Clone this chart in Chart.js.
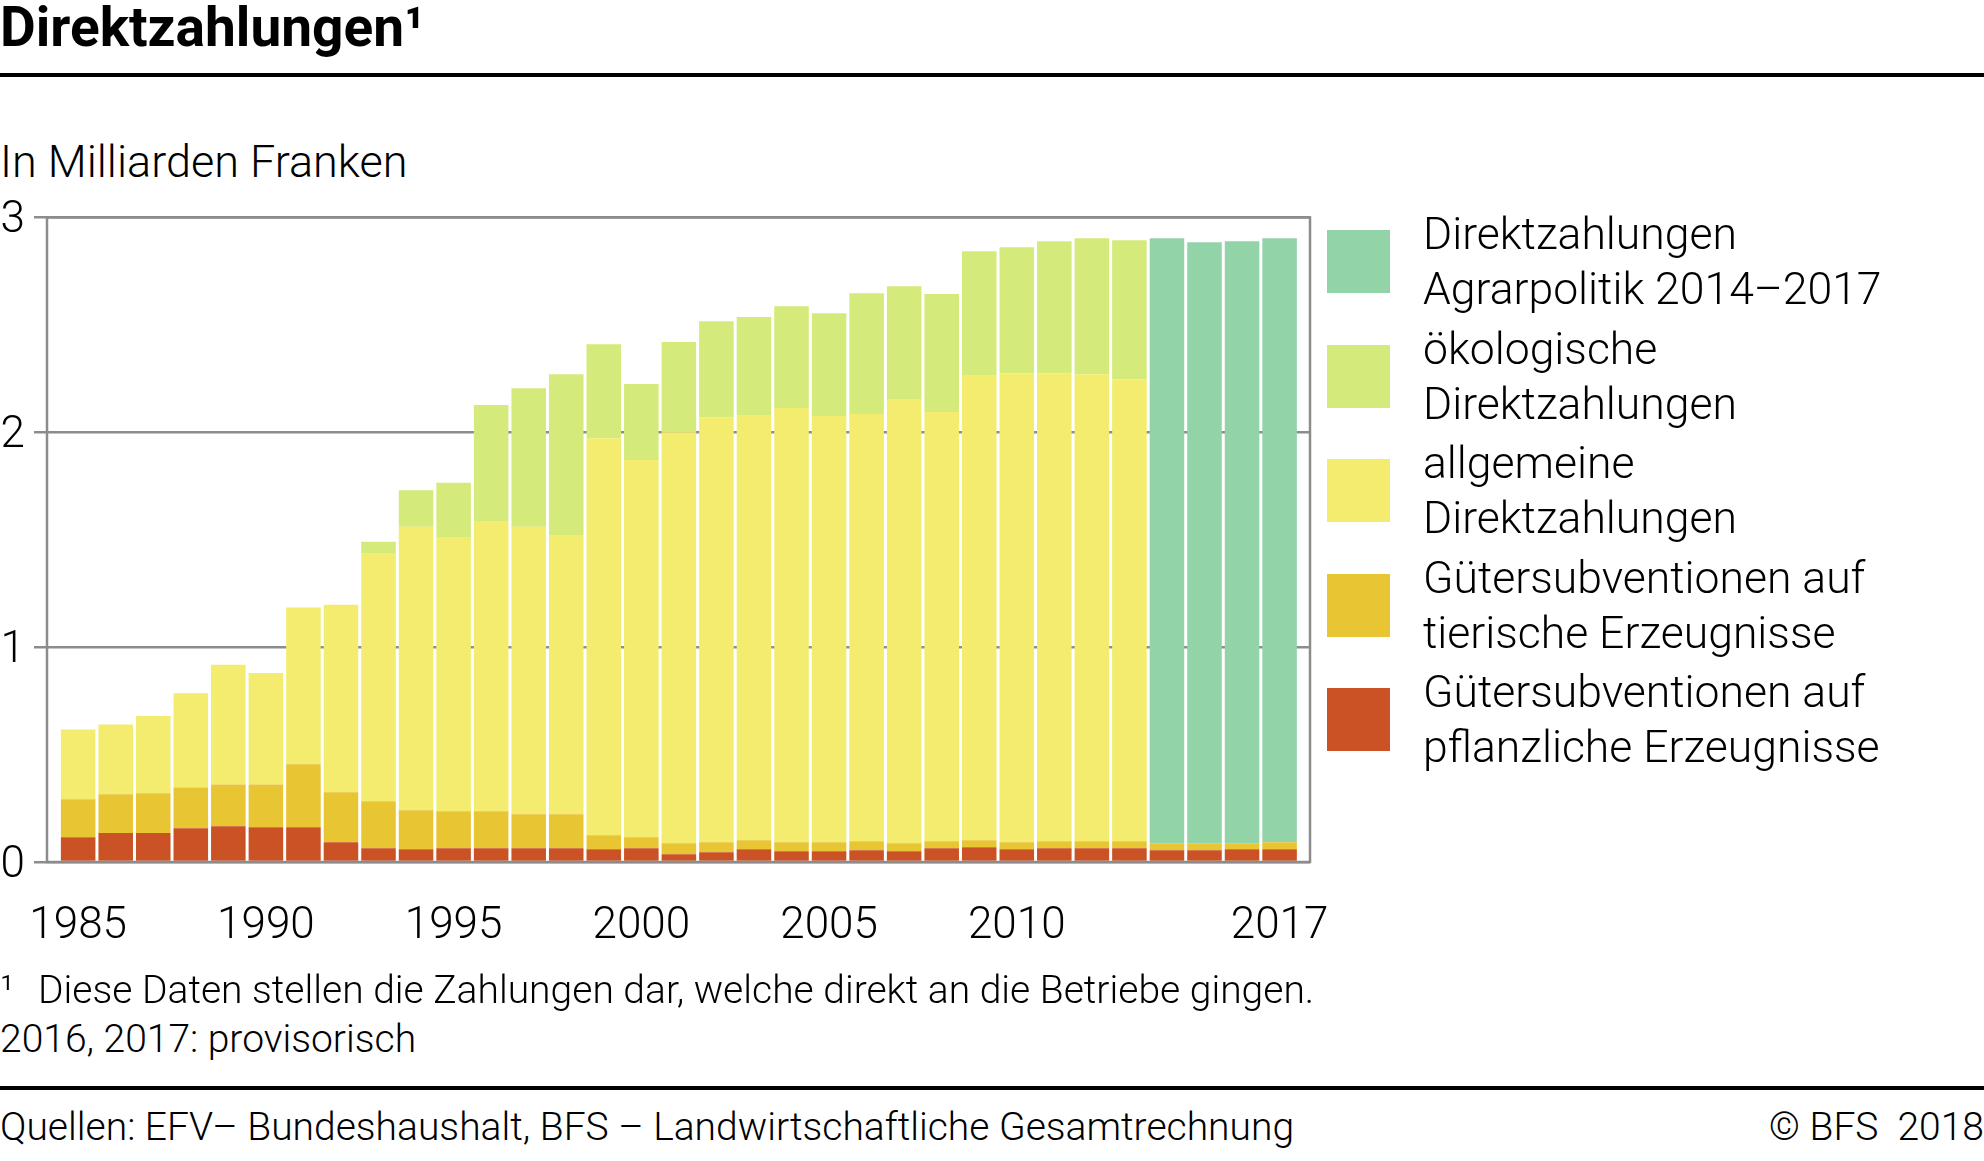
<!DOCTYPE html>
<html lang="de">
<head>
<meta charset="UTF-8">
<title>Direktzahlungen</title>
<script src="https://cdn.jsdelivr.net/npm/chart.js"></script>
<style>
  html, body { margin: 0; padding: 0; background: #fff; }
  body { width: 1984px; height: 1161px; position: relative; overflow: hidden;
         font-family: Roboto, "Noto Sans", sans-serif; font-weight: 300; color: #000; }
  .abs { position: absolute; white-space: pre; }
  #title { left: 0; top: 0px; font-size: 55px; line-height: 55px; font-weight: 700; }
  .rule { position: absolute; left: 0; width: 1984px; height: 4px; background: #000; }
  #unit { left: 0; top: 139px; font-size: 45px; line-height: 45px; }
  #chartBox { position: absolute; left: 0; top: 182px; width: 1330px; height: 798px; }
  .legItem { position: absolute; left: 1327px; width: 640px; height: 110px; }
  .legItem .sw { position: absolute; left: 0; top: 23px; width: 63px; height: 63px; }
  .legItem .tx { position: absolute; left: 96px; top: 0; font-size: 44.5px; line-height: 55px; white-space: nowrap; }
  .note { font-size: 39px; line-height: 39px; }
  .note .sup { display: inline-block; width: 38px; }
</style>
</head>
<body>
<div id="title" class="abs">Direktzahlungen¹</div>
<div class="rule" style="top:73px"></div>
<div id="unit" class="abs">In Milliarden Franken</div>

<div id="chartBox"><canvas id="chart" width="1330" height="798"></canvas></div>

<div id="legend"></div>

<div class="abs note" style="left:0; top:971px"><span class="sup">¹</span>Diese Daten stellen die Zahlungen dar, welche direkt an die Betriebe gingen.</div>
<div class="abs note" style="left:0; top:1020px">2016, 2017: provisorisch</div>
<div class="rule" style="top:1086px"></div>
<div class="abs note" style="left:0; top:1108px">Quellen: EFV– Bundeshaushalt, BFS – Landwirtschaftliche Gesamtrechnung</div>
<div class="abs note" style="right:0; top:1108px">© BFS  2018</div>

<script>
// Werte in Milliarden Franken
const years = [1985, 1986, 1987, 1988, 1989, 1990, 1991, 1992, 1993, 1994, 1995,
  1996, 1997, 1998, 1999, 2000, 2001, 2002, 2003, 2004, 2005, 2006, 2007, 2008,
  2009, 2010, 2011, 2012, 2013, 2014, 2015, 2016, 2017];

const pflanzlich = [0.115, 0.135, 0.135, 0.157, 0.166, 0.162, 0.162, 0.092, 0.064, 0.059, 0.064,
  0.064, 0.064, 0.064, 0.059, 0.064, 0.036, 0.045, 0.059, 0.050, 0.050, 0.055, 0.050, 0.064,
  0.069, 0.059, 0.064, 0.064, 0.064, 0.055, 0.055, 0.059, 0.059];

const tierisch = [0.177, 0.180, 0.185, 0.190, 0.195, 0.199, 0.293, 0.233, 0.219, 0.182, 0.172,
  0.172, 0.158, 0.158, 0.065, 0.051, 0.051, 0.047, 0.042, 0.042, 0.042, 0.042, 0.037, 0.033,
  0.032, 0.033, 0.033, 0.033, 0.033, 0.032, 0.032, 0.028, 0.033];

const allgemeine = [0.325, 0.325, 0.360, 0.438, 0.557, 0.519, 0.730, 0.872, 1.152, 1.319, 1.277,
  1.351, 1.338, 1.296, 1.848, 1.756, 1.913, 1.978, 1.979, 2.021, 1.984, 1.988, 2.068, 1.997,
  2.165, 2.183, 2.178, 2.173, 2.150, 0, 0, 0, 0];

const oekologische = [0, 0, 0, 0, 0, 0, 0, 0, 0.055, 0.170, 0.252,
  0.540, 0.645, 0.752, 0.438, 0.354, 0.420, 0.447, 0.456, 0.474, 0.478, 0.562, 0.525, 0.549,
  0.576, 0.586, 0.614, 0.633, 0.647, 0, 0, 0, 0];

const agrarpolitik = [0, 0, 0, 0, 0, 0, 0, 0, 0, 0, 0,
  0, 0, 0, 0, 0, 0, 0, 0, 0, 0, 0, 0, 0,
  0, 0, 0, 0, 0, 2.816, 2.797, 2.802, 2.811];

const xTickYears = [1985, 1990, 1995, 2000, 2005, 2010, 2017];
const yTicks = [0, 1, 2, 3];

const series = [
  { label: 'Gütersubventionen auf pflanzliche Erzeugnisse', values: pflanzlich, color: '#cb5224' },
  { label: 'Gütersubventionen auf tierische Erzeugnisse', values: tierisch, color: '#e8c532' },
  { label: 'allgemeine Direktzahlungen', values: allgemeine, color: '#f3ec6e' },
  { label: 'ökologische Direktzahlungen', values: oekologische, color: '#d4ea7a' },
  { label: 'Direktzahlungen Agrarpolitik 2014–2017', values: agrarpolitik, color: '#93d3a8' }
];
// Zeilenumbrüche wie im Original
const legendLines = {
  'Gütersubventionen auf pflanzliche Erzeugnisse': ['Gütersubventionen auf', 'pflanzliche Erzeugnisse'],
  'Gütersubventionen auf tierische Erzeugnisse': ['Gütersubventionen auf', 'tierische Erzeugnisse'],
  'allgemeine Direktzahlungen': ['allgemeine', 'Direktzahlungen'],
  'ökologische Direktzahlungen': ['ökologische', 'Direktzahlungen'],
  'Direktzahlungen Agrarpolitik 2014–2017': ['Direktzahlungen', 'Agrarpolitik 2014–2017']
};

// Legende (oben die oberste Schicht)
const legendEl = document.getElementById('legend');
series.slice().reverse().forEach((s, i) => {
  const item = document.createElement('div');
  item.className = 'legItem';
  item.style.top = (207 + 114.5 * i) + 'px';
  item.innerHTML = '<div class="sw" style="background:' + s.color + '"></div>' +
    '<div class="tx">' + legendLines[s.label].join('<br>') + '</div>';
  legendEl.appendChild(item);
});

const frameColor = '#8c8c8c';

const framePlugin = {
  id: 'frame',
  afterDatasetsDraw(chart) {
    const a = chart.chartArea;
    const c = chart.ctx;
    c.save();
    c.strokeStyle = frameColor;
    c.lineWidth = 2.5;
    c.strokeRect(a.left, a.top, a.right - a.left, a.bottom - a.top);
    c.restore();
  }
};

Chart.defaults.font.family = 'Roboto';
Chart.defaults.font.weight = '300';
Chart.defaults.color = '#000';

new Chart(document.getElementById('chart'), {
  type: 'bar',
  data: {
    datasets: series.map(s => ({
      label: s.label,
      data: years.map((y, i) => ({ x: y, y: s.values[i] })),
      backgroundColor: s.color,
      borderWidth: 0,
      barPercentage: 0.92,
      categoryPercentage: 1.0
    }))
  },
  options: {
    responsive: false,
    animation: false,
    devicePixelRatio: 1,
    layout: { padding: { top: 16, right: 20, left: 0, bottom: 0 } },
    plugins: { legend: { display: false }, tooltip: { enabled: false } },
    scales: {
      x: {
        type: 'linear',
        stacked: true,
        offset: false,
        min: 1984.17,
        max: 2017.81,
        grid: { display: false, drawTicks: false, offset: false },
        border: { display: false },
        afterBuildTicks: scale => { scale.ticks = xTickYears.map(v => ({ value: v })); },
        afterFit: scale => {
          scale.height = 118;
          scale.paddingLeft = 0;
          scale.paddingRight = 0;
        },
        ticks: { font: { size: 44 }, padding: 39, maxRotation: 0, autoSkip: false,
                 callback: v => String(v) }
      },
      y: {
        stacked: true,
        min: 0,
        max: 3,
        afterBuildTicks: scale => { scale.ticks = yTicks.map(v => ({ value: v })); },
        afterFit: scale => { scale.width = 47; },
        grid: { color: frameColor, lineWidth: 2.5, tickLength: 13 },
        border: { display: false },
        ticks: { font: { size: 44 }, padding: 9, labelOffset: 4 }
      }
    }
  },
  plugins: [framePlugin]
});
</script>
</body>
</html>
